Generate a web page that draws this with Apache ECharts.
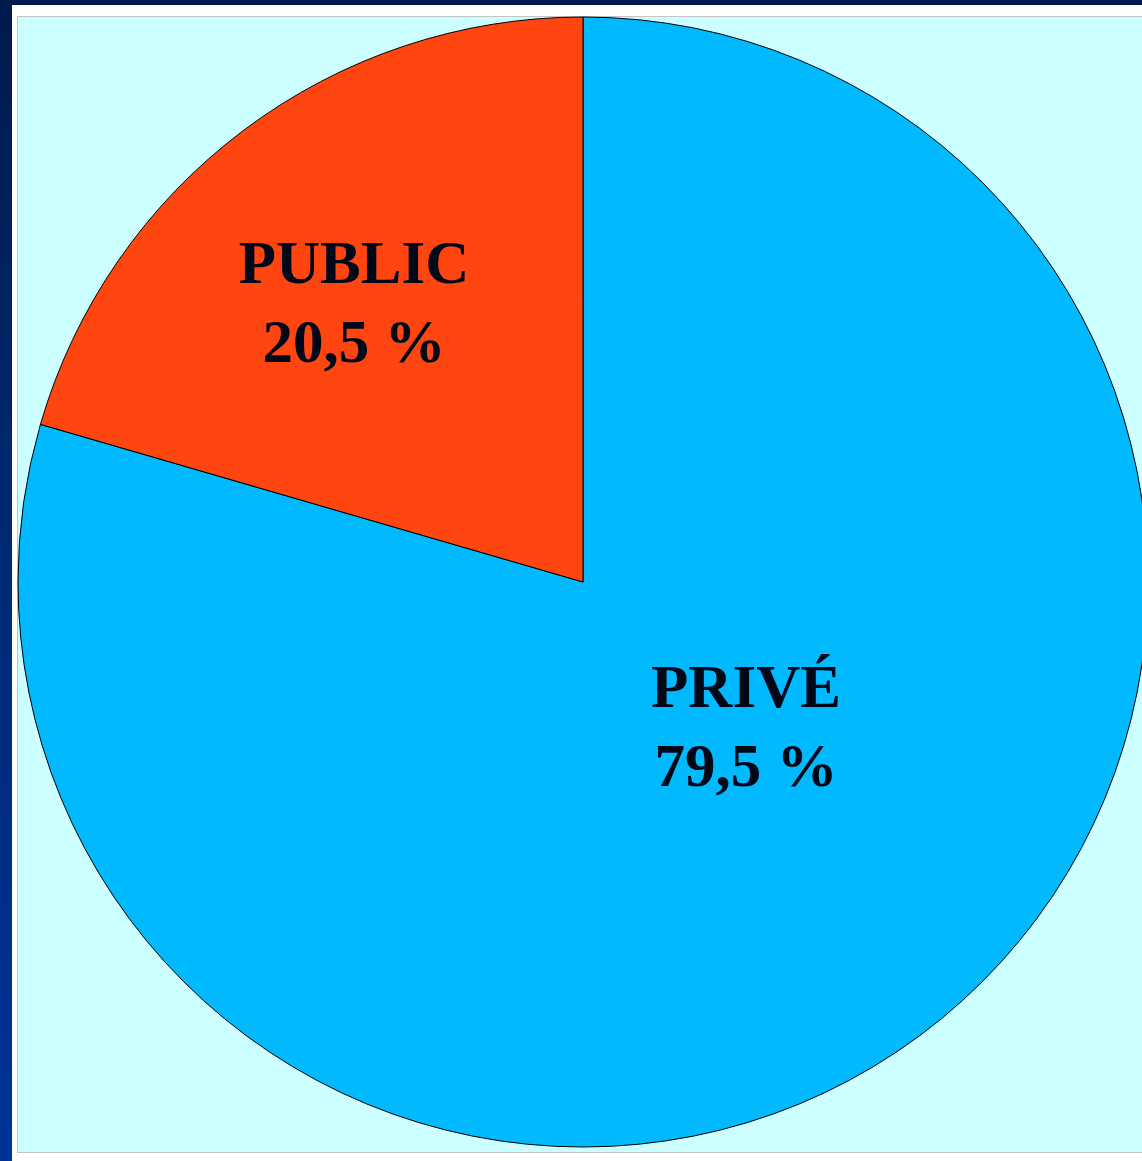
<!DOCTYPE html>
<html>
<head>
<meta charset="utf-8">
<script src="https://cdn.jsdelivr.net/npm/echarts@6/dist/echarts.min.js"></script>
<style>
  html, body { margin: 0; padding: 0; width: 1142px; height: 1161px; overflow: hidden; }
  body { background: linear-gradient(to bottom, #001a4d 0%, #00286e 40%, #003399 100%); position: relative; }
  #white { position: absolute; left: 12px; top: 5px; width: 1140px; height: 1160px; background: #ffffff; }
  #panel { position: absolute; left: 17px; top: 16px; width: 1140px; height: 1135px; background: #ccffff; border: 1px solid #c4c4c4; }
  #chart { position: absolute; left: 0; top: 0; width: 1142px; height: 1161px; }
</style>
</head>
<body>
<div id="white"></div>
<div id="panel"></div>
<div id="chart"></div>
<script>
const categories = ['PRIVÉ', 'PUBLIC'];
const values = [79.5, 20.5];
const valueLabels = ['79,5 %', '20,5 %'];
const colors = ['#00b9ff', '#ff4510'];

const chart = echarts.init(document.getElementById('chart'), null, { renderer: 'canvas' });
const labelSpots = [[746, 731], [354, 307]];

chart.setOption({
  backgroundColor: 'transparent',
  animation: false,
  series: [{
    type: 'pie',
    center: [583, 582],
    radius: [0, 565],
    startAngle: 90,
    clockwise: true,
    data: categories.map((c, i) => ({
      name: c,
      value: values[i],
      itemStyle: { color: colors[i] }
    })),
    itemStyle: { borderColor: '#000000', borderWidth: 1 },
    label: {
      show: true,
      position: 'inside',
      formatter: p => p.name + '\n' + valueLabels[p.dataIndex],
      fontFamily: '"Liberation Serif", "Times New Roman", serif',
      fontWeight: 'bold',
      fontSize: 61,
      lineHeight: 79,
      color: '#000818',
      align: 'center'
    },
    labelLine: { show: false },
    labelLayout: p => ({
      x: labelSpots[p.dataIndex][0],
      y: labelSpots[p.dataIndex][1],
      align: 'center',
      verticalAlign: 'middle'
    }),
    emphasis: { disabled: true }
  }]
});
</script>
</body>
</html>
